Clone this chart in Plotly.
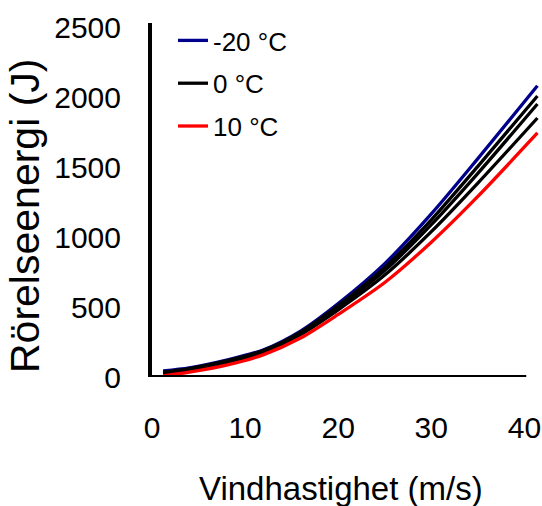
import plotly.graph_objects as go

# Wind speed (m/s)
wind_speed = [1.2, 4, 8, 12, 16, 20, 25, 30, 35, 41.4]

# Kinetic energy (J) per temperature series
series_names = ["-20 °C", "serie 2", "0 °C", "serie 4", "10 °C"]
energy_m20 = [43, 65, 120, 195, 330, 525, 810, 1165, 1560, 2080]
energy_b1 = [35, 60, 115, 190, 322, 510, 783, 1123, 1505, 2007]
energy_0 = [30, 55, 110, 185, 315, 498, 760, 1088, 1455, 1950]
energy_b3 = [25, 50, 100, 178, 305, 480, 728, 1038, 1385, 1850]
energy_10 = [8, 35, 85, 160, 280, 447, 675, 963, 1290, 1743]

x_ticks = [0, 10, 20, 30, 40]
y_ticks = [0, 500, 1000, 1500, 2000, 2500]

series = [energy_m20, energy_b1, energy_0, energy_b3, energy_10]
colors = ["#00008C", "#000000", "#000000", "#000000", "#FF0000"]
show_leg = [True, False, True, False, True]

FONT = "Liberation Sans, Arial, sans-serif"

W, H = 542, 506
ML, MR, MT, MB = 152, 2, 23, 129
PW, PH = W - ML - MR, H - MT - MB
X_MAX = PW / 9.31
Y_MAX = PH / 0.14

fig = go.Figure()
for i, (name, vals, col, sl) in enumerate(zip(series_names, series, colors, show_leg)):
    fig.add_trace(go.Scatter(
        x=wind_speed, y=vals, mode="lines", name=name,
        line=dict(color=col, width=3.3, shape="spline", smoothing=0.8),
        showlegend=sl, legendgroup=f"g{i}",
    ))

def px_x(p):
    return (p - ML) / PW

def px_y(p):
    return (H - MB - p) / PH

fig.update_layout(
    width=W, height=H,
    margin=dict(l=ML, r=MR, t=MT, b=MB, pad=0),
    paper_bgcolor="white", plot_bgcolor="white",
    font=dict(family=FONT, color="black"),
    showlegend=True,
    legend=dict(
        x=px_x(173), y=px_y(17), xanchor="left", yanchor="top",
        font=dict(size=26, family=FONT, color="black"),
        bgcolor="rgba(0,0,0,0)", borderwidth=0,
        itemwidth=30, tracegroupgap=6,
    ),
    xaxis=dict(
        range=[0, X_MAX], tickvals=x_ticks, ticktext=[str(v) for v in x_ticks],
        showgrid=False, zeroline=False, showline=False, ticks="",
        tickfont=dict(size=30, family=FONT, color="black"),
        ticklabelstandoff=30,
    ),
    yaxis=dict(
        range=[0, Y_MAX], tickvals=y_ticks, ticktext=[str(v) for v in y_ticks],
        showgrid=False, zeroline=False, showline=True, linecolor="black", linewidth=4,
        ticks="", tickfont=dict(size=30, family=FONT, color="black"),
        ticklabelstandoff=21,
    ),
    shapes=[dict(type="line", xref="x", yref="y", x0=0, x1=40.2, y0=0, y1=0,
                 line=dict(color="black", width=4))],
    annotations=[
        dict(text="Vindhastighet (m/s)", xref="paper", yref="paper",
             x=px_x(341), y=px_y(488.5), xanchor="center", yanchor="middle",
             showarrow=False, font=dict(size=33, family=FONT, color="black")),
        dict(text="Rörelseenergi (J)", xref="paper", yref="paper",
             x=px_x(25), y=px_y(216), xanchor="center", yanchor="middle",
             textangle=-90, showarrow=False,
             font=dict(size=41, family=FONT, color="black")),
    ],
)

fig.write_html("out.html")
